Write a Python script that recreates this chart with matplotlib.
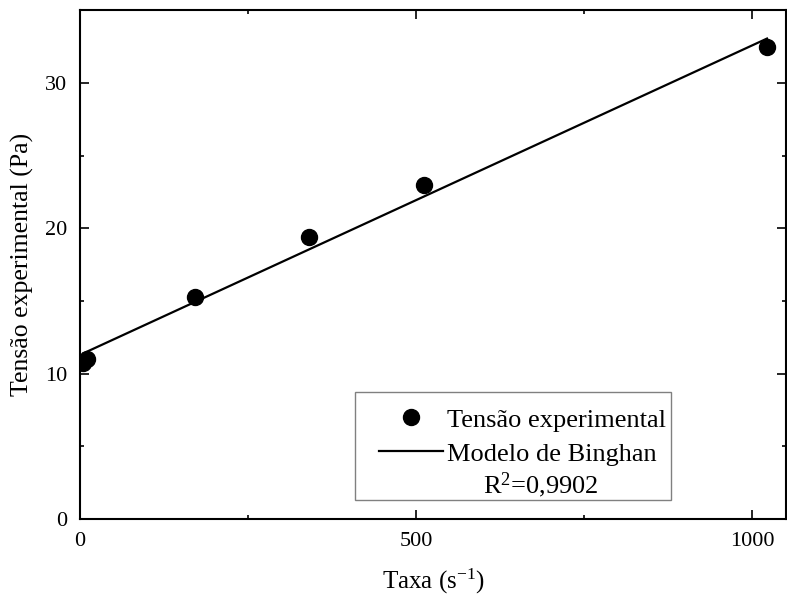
import matplotlib
matplotlib.use('Agg')
import matplotlib.pyplot as plt
from matplotlib.patches import Rectangle
from matplotlib.ticker import MultipleLocator

font = {'family': 'serif',
        'serif': 'Liberation Serif',
        'weight': 'normal',
        'size': 16}
plt.rc('font', **font)
plt.rcParams['mathtext.fontset'] = 'custom'
plt.rcParams['mathtext.rm'] = 'Liberation Serif'
plt.rcParams['mathtext.it'] = 'Liberation Serif:italic'

# shear rate (1/s) and measured stress (Pa)
taxa = [5.1, 10.2, 170.3, 340.6, 510.9, 1021.8]
tensao = [10.7, 11.0, 15.3, 19.4, 23.0, 32.5]

# Bingham fit line (end points)
fit_x = [5.1, 1021.8]
fit_y = [11.4, 33.05]

fig = plt.figure(figsize=(7.87, 6.0), dpi=100)
ax = fig.add_axes([0.1017, 0.135, 0.8970, 0.848])

ax.plot(taxa, tensao, 'o', color='black', ms=11.5, label='Tensão experimental')
ax.plot(fit_x, fit_y, '-', color='black', lw=1.6, label='Modelo de Binghan')

ax.set_xlim(0, 1050)
ax.set_ylim(0, 35)
ax.xaxis.set_major_locator(MultipleLocator(500))
ax.xaxis.set_minor_locator(MultipleLocator(250))
ax.yaxis.set_major_locator(MultipleLocator(10))
ax.yaxis.set_minor_locator(MultipleLocator(5))
ax.tick_params(which='both', direction='in', top=True, right=True, width=1.2)
ax.tick_params(which='major', length=6.5, pad=9, labelsize=16)
ax.tick_params(which='minor', length=3.2)
for s in ax.spines.values():
    s.set_linewidth(1.5)

ax.set_xlabel('Taxa (s$^{\\mathregular{-1}}$)', fontsize=18, labelpad=12)
ax.set_ylabel('Tensão experimental (Pa)', fontsize=18.5, labelpad=8)

# legend box with R² underneath the entries
ax.add_patch(Rectangle((0.390, 0.037), 0.447, 0.213, transform=ax.transAxes,
                       fill=False, edgecolor='#808080', lw=1.0, zorder=3))
ax.legend(loc='upper left', bbox_to_anchor=(0.424, 0.218), frameon=False,
          fontsize=19, handlelength=2.4, handletextpad=0.15,
          labelspacing=0.4, borderaxespad=0.0, borderpad=0.0)
ax.text(0.653, 0.067, 'R$^{\\mathregular{2}}$=0,9902', transform=ax.transAxes,
        ha='center', va='center', fontsize=19)

plt.savefig('out.png', dpi=100)
